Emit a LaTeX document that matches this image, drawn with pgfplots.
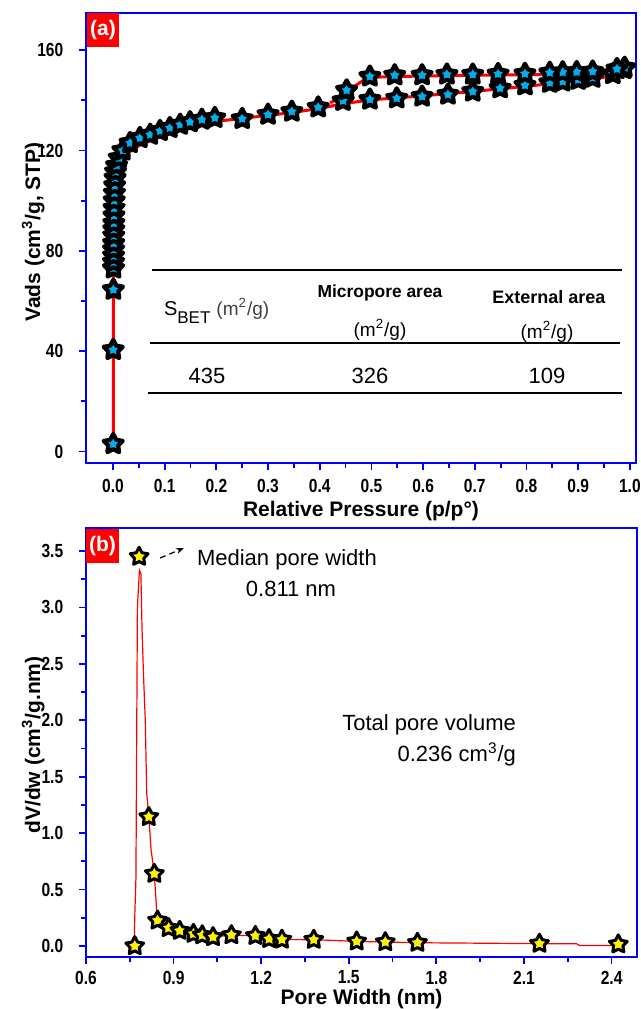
\documentclass[border=0pt]{standalone}
\usepackage{fontspec}
\setmainfont{Liberation Sans}
\newfontfamily\narrowfont{Liberation Sans}[FakeStretch=0.82]
\usepackage{pgfplots}
\pgfplotsset{compat=1.18}
\usetikzlibrary{arrows.meta}

% five-pointed filled star
\pgfdeclareplotmark{pstar}{%
  \pgfpathmoveto{\pgfpointpolar{90}{\pgfplotmarksize}}%
  \pgfpathlineto{\pgfpointpolar{126}{0.52\pgfplotmarksize}}%
  \pgfpathlineto{\pgfpointpolar{162}{\pgfplotmarksize}}%
  \pgfpathlineto{\pgfpointpolar{198}{0.52\pgfplotmarksize}}%
  \pgfpathlineto{\pgfpointpolar{234}{\pgfplotmarksize}}%
  \pgfpathlineto{\pgfpointpolar{270}{0.52\pgfplotmarksize}}%
  \pgfpathlineto{\pgfpointpolar{306}{\pgfplotmarksize}}%
  \pgfpathlineto{\pgfpointpolar{342}{0.52\pgfplotmarksize}}%
  \pgfpathlineto{\pgfpointpolar{18}{\pgfplotmarksize}}%
  \pgfpathlineto{\pgfpointpolar{54}{0.52\pgfplotmarksize}}%
  \pgfpathclose
  \pgfusepathqfillstroke}

\pgfplotsset{
  panel/.style={
    scale only axis,
    anchor=south west,
    clip=false,
    axis line style={blue, line width=1.3pt},
    tick style={blue, line width=0.9pt},
    tick align=outside,
    xtick pos=bottom,
    ytick pos=left,
    major tick length=3.5pt,
    minor tick length=2.5pt,
    minor tick num=1,
    /pgf/number format/assume math mode=true,
    ticklabel style={font=\narrowfont\bfseries\fontsize{9.5}{11}\selectfont, inner sep=1pt},
    yticklabel style={xshift=-6.7pt},
  },
}

\pgfplotstableread{
x y
0.0005 3
0.0005 40.5
0.0008 64.5
0.0010 73
0.0010 75.5
0.0012 78
0.0012 80.5
0.0013 83
0.0014 86
0.0015 88.5
0.0017 91
0.0019 94
0.0021 97
0.0024 100
0.0028 103
0.0033 106
0.0040 109
0.0050 111.5
0.0070 114
0.0120 117
0.0190 120
0.0330 123
0.0520 125
0.0720 126.3
0.0910 127.8
0.1100 129
0.1300 130.3
0.1490 131.3
0.1720 132.3
0.1970 133
0.2500 132.6
0.3000 134.3
0.3460 135.5
0.3970 137.2
0.4450 139.8
0.4970 140.3
0.5490 140.8
0.5980 141.5
0.6480 142.3
0.6960 143.5
0.7490 144.8
0.7970 146
0.8450 147
0.8700 147.5
0.9000 148.2
0.9280 149
0.9670 150.5
0.9880 152.5
}\adsorb

\pgfplotstableread{
x y
0.9900 153
0.9750 152.5
0.9280 151.5
0.8970 151.3
0.8700 151.2
0.8450 151
0.7970 150.6
0.7450 150.5
0.6960 150.3
0.6460 150.3
0.5980 150
0.5450 150
0.4970 149.5
0.4520 144
}\desorb

\pgfplotstableread{
x y
0.0006 3
0.0006 100
0.0015 106
0.0035 110
0.007 112.5
0.015 116
0.025 118.5
0.036 120
0.06 123.2
0.085 125.3
0.11 127
0.139 128.8
0.17 130.5
0.207 131.8
0.25 132.8
0.3 134
0.35 135.2
0.4 136.8
0.45 138.8
0.5 140.2
0.6 141.8
0.7 143.6
0.8 145.6
0.9 147.8
0.95 149.2
0.985 151.5
0.95 150.8
0.9 150.6
0.8 150.2
0.7 150
0.6 149.7
0.5 149.2
0.485 148
0.47 146
0.455 143.5
0.44 141
0.42 139
}\isofit

\pgfplotstableread{
x y
0.767 0.0
0.782 3.45
0.815 1.144
0.834 0.64
0.845 0.226
0.883 0.16
0.921 0.135
0.968 0.109
0.998 0.096
1.035 0.08
1.098 0.097
1.18 0.09
1.227 0.063
1.271 0.057
1.38 0.056
1.527 0.041
1.625 0.035
1.735 0.029
2.153 0.021
2.423 0.015
}\psd

\pgfplotstableread{
x y
0.765 0.0
0.767 0.26
0.771 0.6
0.776 3.0
0.783 3.33
0.788 3.30
0.792 2.8
0.797 2.4
0.803 2.0
0.808 1.35
0.815 1.15
0.823 0.85
0.834 0.64
0.841 0.35
0.845 0.226
0.883 0.16
0.921 0.135
0.968 0.109
0.998 0.096
1.035 0.08
1.098 0.097
1.18 0.09
1.227 0.063
1.271 0.057
1.38 0.056
1.527 0.041
1.625 0.035
1.735 0.029
2.153 0.021
2.28 0.02
2.29 0.005
2.40 0.005
2.423 0.015
}\psdline

\begin{document}
\begin{tikzpicture}
\useasboundingbox (0,0) rectangle (320.5pt,-504.5pt);

% (a) N2 isotherm
\begin{axis}[panel,
  at={(43.05pt,-231.5pt)},
  width=275pt, height=225pt,
  xmin=-0.052, xmax=1.012,
  ymin=-4.58, ymax=174.8,
  xtick={0,0.1,0.2,0.3,0.4,0.5,0.6,0.7,0.8,0.9,1.0},
  ytick={0,40,80,120,160},
  xticklabel style={yshift=-3.2pt, /pgf/number format/.cd, fixed, fixed zerofill, precision=1},
]
\addplot[only marks, mark=pstar, mark size=5pt,
  mark options={fill=cyan, draw=black, line width=2.1pt, line join=round}]
  table {\adsorb};
\addplot[only marks, mark=pstar, mark size=5pt,
  mark options={fill=cyan, draw=black, line width=2.1pt, line join=round}]
  table {\desorb};
\addplot[red, line width=1.5pt, line join=round, no marks] table {\isofit};
\end{axis}

% (b) pore size distribution
\begin{axis}[panel,
  at={(43pt,-478.5pt)},
  width=275.5pt, height=214.5pt,
  xmin=0.6, xmax=2.487,
  ymin=-0.0975, ymax=3.704,
  xtick={0.6,0.9,1.2,1.5,1.8,2.1,2.4},
  ytick={0,0.5,1,1.5,2,2.5,3,3.5},
  xticklabel style={yshift=-2.2pt, /pgf/number format/.cd, fixed, fixed zerofill, precision=1},
  yticklabel style={/pgf/number format/.cd, fixed, fixed zerofill, precision=1},
]
\addplot[red, line width=0.6pt, no marks] table {\psdline};
\addplot[only marks, mark=pstar, mark size=4.7pt,
  mark options={fill=yellow, draw=black, line width=1.5pt, line join=round}]
  table {\psd};
\end{axis}

\begin{scope}[x=0.5pt, y=-0.5pt]
% panel tags
\fill[red] (87,13) rectangle (119,47);
\node[text=white, font=\bfseries\fontsize{10.5}{12}\selectfont] at (103,30) {(a)};
\fill[red] (86,529) rectangle (119,563);
\node[text=white, font=\bfseries\fontsize{10.5}{12}\selectfont] at (102.5,546) {(b)};

% axis titles
\node[anchor=base, inner sep=0pt, font=\bfseries\fontsize{10.5}{12}\selectfont] at (361,516) {Relative Pressure (p/p°)};
\node[anchor=base, inner sep=0pt, rotate=90, font=\bfseries\fontsize{10.5}{12}\selectfont] at (40,232) {Vads (cm\textsuperscript{3}/g, STP)};
\node[anchor=base, inner sep=0pt, font=\bfseries\fontsize{10.5}{12}\selectfont] at (361.5,1004) {Pore Width (nm)};
\node[anchor=base, inner sep=0pt, rotate=90, font=\bfseries\fontsize{10.5}{12}\selectfont] at (40,745) {dV/dw (cm\textsuperscript{3}/g.nm)};

% table in (a)
\draw[line width=0.75pt] (152,270) -- (622,270);
\draw[line width=0.75pt] (150,343) -- (620,343);
\draw[line width=0.75pt] (148,393) -- (622,393);
\node[anchor=base west, font=\fontsize{10}{12}\selectfont] at (157,315)
  {S\raisebox{-4pt}{\fontsize{8.5}{10}\selectfont BET}\hspace{3pt}{\fontsize{9.5}{11}\selectfont\color{black!75}(m\textsuperscript{2}/g)}};
\node[anchor=base, font=\bfseries\fontsize{8.7}{10}\selectfont] at (380,297) {Micropore area};
\node[anchor=base, font=\fontsize{9.5}{11}\selectfont] at (380,336) {(m\textsuperscript{2}/g)};
\node[anchor=base, font=\bfseries\fontsize{9}{10}\selectfont] at (549,303) {External area};
\node[anchor=base, font=\fontsize{9.5}{11}\selectfont] at (547,338) {(m\textsuperscript{2}/g)};
\node[anchor=base, font=\fontsize{11}{13}\selectfont] at (207,383) {435};
\node[anchor=base, font=\fontsize{11}{13}\selectfont] at (370,383) {326};
\node[anchor=base, font=\fontsize{11}{13}\selectfont] at (547,383) {109};

% notes in (b)
\draw[densely dashed, line width=0.6pt, -{Stealth[length=4pt]}] (160,558) -- (184,548);
\node[anchor=base west, font=\fontsize{11}{13}\selectfont] at (190,565) {Median pore width};
\node[anchor=base, font=\fontsize{11}{13}\selectfont] at (291,596) {0.811 nm};
\node[anchor=base east, font=\fontsize{11}{13}\selectfont] at (523,730) {Total pore volume};
\node[anchor=base east, font=\fontsize{11}{13}\selectfont] at (523,761) {0.236 cm\textsuperscript{3}/g};
\end{scope}
\end{tikzpicture}
\end{document}
